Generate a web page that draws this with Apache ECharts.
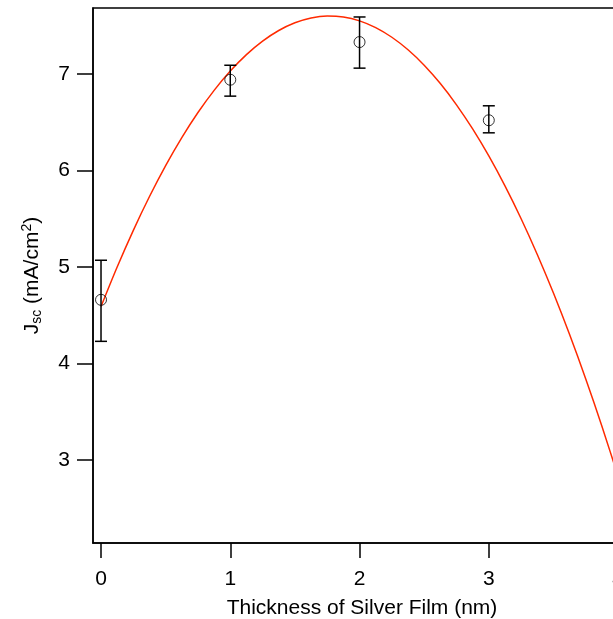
<!DOCTYPE html>
<html><head><meta charset="utf-8">
<script src="https://cdn.jsdelivr.net/npm/echarts@6/dist/echarts.min.js"></script>
<style>html,body{margin:0;padding:0;background:#fff}#c{width:613px;height:619px}</style>
</head><body><div id="c"></div>
<script>
// measured data
const thickness = [0, 1, 2, 3];
const jsc = [4.66, 6.94, 7.33, 6.52];
const errLow = [4.23, 6.77, 7.06, 6.39];
const errHigh = [5.07, 7.09, 7.59, 6.67];
// fitted curve
const fitX = [0, 0.125, 0.25, 0.375, 0.5, 0.625, 0.75, 0.875, 1, 1.125, 1.25, 1.375, 1.5, 1.625, 1.75, 1.875,
  2, 2.125, 2.25, 2.375, 2.5, 2.625, 2.75, 2.875, 3, 3.125, 3.25, 3.375, 3.5, 3.625, 3.75, 3.875, 4, 4.1];
const fitY = [4.59, 5.00, 5.38, 5.73, 6.05, 6.34, 6.60, 6.83, 7.03, 7.20, 7.34, 7.45, 7.53, 7.58, 7.60, 7.59,
  7.55, 7.48, 7.38, 7.25, 7.09, 6.90, 6.68, 6.43, 6.15, 5.84, 5.50, 5.13, 4.73, 4.30, 3.84, 3.35, 2.83, 2.40];
const xTicks = [0, 1, 2, 3, 4];
const yTicks = [3, 4, 5, 6, 7];

const chart = echarts.init(document.getElementById('c'), null, {renderer: 'canvas'});
const font = 'Liberation Sans, Arial, sans-serif';
const fs = 21;
chart.setOption({
  animation: false,
  grid: {left: 93, top: 8, bottom: 76, right: -18, containLabel: false, outerBoundsMode: 'none',
    show: true, borderColor: '#000', borderWidth: 1.5, backgroundColor: 'transparent'},
  xAxis: {
    type: 'value', min: -0.062, max: 4.1,
    name: 'Thickness of Silver Film (nm)', nameLocation: 'middle', nameGap: 55,
    nameTextStyle: {color: '#000', fontSize: fs, fontFamily: font},
    axisLine: {show: true, onZero: false, lineStyle: {color: '#000', width: 1.5}},
    axisTick: {show: true, inside: false, length: 15, lineStyle: {color: '#000', width: 1.5}, customValues: xTicks},
    axisLabel: {color: '#000', fontSize: fs, fontFamily: font, margin: 26, customValues: xTicks},
    splitLine: {show: false}
  },
  yAxis: {
    type: 'value', min: 2.141, max: 7.683,
    name: '{m|J}{sub|sc}{m| (mA/cm}{sup|2}{m|)}', nameLocation: 'middle', nameGap: 49, nameRotate: 90,
    nameTextStyle: {
      color: '#000', fontFamily: font, fontSize: fs,
      rich: {
        m: {fontSize: fs, fontFamily: font, color: '#000'},
        sub: {fontSize: 14, fontFamily: font, color: '#000', verticalAlign: 'bottom', padding: [10, 0, 0, 0]},
        sup: {fontSize: 14, fontFamily: font, color: '#000', verticalAlign: 'top', padding: [0, 0, 10, 0]}
      }
    },
    axisLine: {show: true, onZero: false, lineStyle: {color: '#000', width: 1.5}},
    axisTick: {show: true, inside: false, length: 16, lineStyle: {color: '#000', width: 1.5}, customValues: yTicks},
    axisLabel: {color: '#000', fontSize: fs, fontFamily: font, margin: 23, customValues: yTicks},
    splitLine: {show: false}
  },
  series: [
    {
      type: 'line', data: fitX.map((x, i) => [x, fitY[i]]), smooth: 0.3, showSymbol: false,
      lineStyle: {color: '#ff2a00', width: 1.5}, z: 2
    },
    {
      type: 'custom', z: 3,
      data: thickness.map((x, i) => [x, errLow[i], errHigh[i]]),
      renderItem: function (params, api) {
        const x = api.value(0);
        const lo = api.coord([x, api.value(1)]);
        const hi = api.coord([x, api.value(2)]);
        const cap = 6;
        const st = {stroke: '#000', lineWidth: 1.5};
        return {type: 'group', children: [
          {type: 'line', shape: {x1: lo[0], y1: lo[1], x2: hi[0], y2: hi[1]}, style: st},
          {type: 'line', shape: {x1: lo[0] - cap, y1: lo[1], x2: lo[0] + cap, y2: lo[1]}, style: st},
          {type: 'line', shape: {x1: hi[0] - cap, y1: hi[1], x2: hi[0] + cap, y2: hi[1]}, style: st}
        ]};
      }
    },
    {
      type: 'scatter', data: thickness.map((x, i) => [x, jsc[i]]),
      symbol: 'circle', symbolSize: 11,
      itemStyle: {color: 'transparent', borderColor: '#000', borderWidth: 1}, z: 4
    }
  ]
});
</script></body></html>
